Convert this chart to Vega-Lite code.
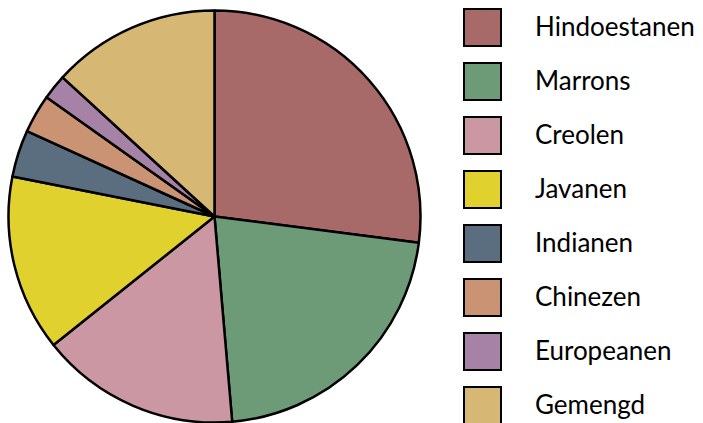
{
  "$schema": "https://vega.github.io/schema/vega-lite/v6.json",
  "width": 429,
  "height": 433,
  "autosize": {"type": "none"},
  "padding": {"top": 0, "left": 0, "right": 274, "bottom": 0},
  "background": "white",
  "title": {"text": "antwoord:", "anchor": "start", "orient": "top", "frame": "group", "baseline": "alphabetic", "offset": -3, "fontSize": 26, "font": "Lato", "fontWeight": "normal", "color": "black", "dx": 0},
  "data": {
    "values": [
      {"groep": "Hindoestanen", "pct": 27.04, "i": 1},
      {"groep": "Marrons", "pct": 21.59, "i": 2},
      {"groep": "Creolen", "pct": 15.65, "i": 3},
      {"groep": "Javanen", "pct": 13.83, "i": 4},
      {"groep": "Indianen", "pct": 3.69, "i": 5},
      {"groep": "Chinezen", "pct": 3.03, "i": 6},
      {"groep": "Europeanen", "pct": 1.97, "i": 7},
      {"groep": "Gemengd", "pct": 13.2, "i": 8}
    ]
  },
  "mark": {"type": "arc", "outerRadius": 206, "stroke": "black", "strokeWidth": 2.5, "strokeJoin": "round"},
  "encoding": {
    "theta": {"field": "pct", "type": "quantitative", "stack": true},
    "order": {"field": "i", "type": "quantitative"},
    "color": {
      "field": "groep",
      "type": "nominal",
      "scale": {
        "domain": ["Hindoestanen", "Marrons", "Creolen", "Javanen", "Indianen", "Chinezen", "Europeanen", "Gemengd"],
        "range": ["#A86A69", "#6E9B77", "#CB97A3", "#E0D12E", "#5A6E7F", "#C99374", "#A682A6", "#D6B874"]
      },
      "legend": {
        "title": null,
        "orient": "none",
        "legendX": 463,
        "legendY": 8,
        "padding": 0,
        "symbolType": "square",
        "symbolSize": 1369,
        "symbolStrokeColor": "black",
        "symbolStrokeWidth": 2,
        "symbolOpacity": 1,
        "labelFontSize": 26,
        "labelFont": "Lato",
        "labelColor": "black",
        "labelOffset": 33,
        "rowPadding": 9,
        "labelLimit": 300
      }
    }
  },
  "config": {"view": {"stroke": null}}
}
